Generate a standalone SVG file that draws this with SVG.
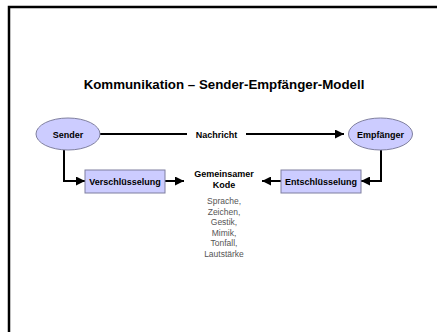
<svg xmlns="http://www.w3.org/2000/svg" width="437" height="332" viewBox="0 0 437 332">
<defs>
<marker id="ah" viewBox="0 0 10 10" refX="10" refY="5" markerWidth="4.5" markerHeight="4.5" orient="auto" markerUnits="strokeWidth"><path d="M0,0 L10,5 L0,10 Z" fill="#000"/></marker>
</defs>
<style>
.node{fill:#ccccff;stroke:#7f7f9f;stroke-width:1}
.lbl{font-family:"Liberation Sans",Arial,sans-serif;font-size:9px;font-weight:bold;fill:#000;text-anchor:middle}
.small{font-family:"Liberation Sans",Arial,sans-serif;font-size:8.5px;fill:#555;text-anchor:middle}
.con{stroke:#000;stroke-width:2;fill:none}
</style>
<rect width="437" height="332" fill="#fff"/>
<path d="M9,340 L9,7 L440,7" fill="none" stroke="#000" stroke-width="2.5"/>
<text x="224" y="89" class="lbl" style="font-size:13.3px">Kommunikation – Sender-Empfänger-Modell</text>
<g id="connectors">
<line x1="100" y1="134" x2="187" y2="134" class="con"/>
<line x1="246" y1="134" x2="344" y2="134" class="con" marker-end="url(#ah)"/>
<polyline points="64,150 64,181 85,181" class="con" marker-end="url(#ah)"/>
<line x1="165" y1="181" x2="184" y2="181" class="con" marker-end="url(#ah)"/>
<polyline points="381,150 381,181 361,181" class="con" marker-end="url(#ah)"/>
<line x1="281" y1="181" x2="262" y2="181" class="con" marker-end="url(#ah)"/>
<text x="216.5" y="137.5" class="lbl">Nachricht</text>
</g>
<g id="sender"><ellipse cx="68" cy="134" rx="32" ry="16" class="node"/><text x="68" y="137.5" class="lbl">Sender</text></g>
<g id="empfaenger"><ellipse cx="380.5" cy="134" rx="32" ry="16" class="node"/><text x="380.5" y="137.5" class="lbl">Empfänger</text></g>
<g id="verschluesselung"><rect x="85" y="170" width="80" height="23" class="node"/><text x="125" y="184.5" class="lbl">Verschlüsselung</text></g>
<g id="entschluesselung"><rect x="281" y="170" width="80" height="23" class="node"/><text x="321" y="184.5" class="lbl">Entschlüsselung</text></g>
<g id="kode">
<text x="224" y="176.5" class="lbl">Gemeinsamer</text>
<text x="224" y="187.5" class="lbl">Kode</text>
<text class="small"><tspan x="224" y="204">Sprache,</tspan><tspan x="224" y="214.5">Zeichen,</tspan><tspan x="224" y="225">Gestik,</tspan><tspan x="224" y="235.5">Mimik,</tspan><tspan x="224" y="246">Tonfall,</tspan><tspan x="224" y="256.5">Lautstärke</tspan></text>
</g>
</svg>
